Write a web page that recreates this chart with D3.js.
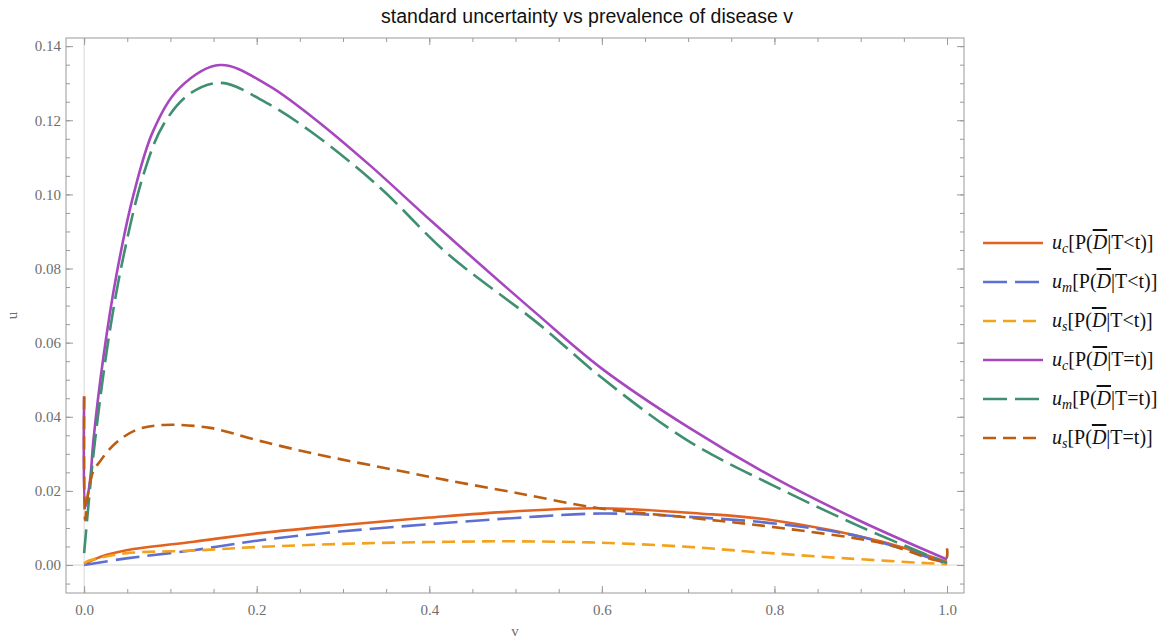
<!DOCTYPE html>
<html>
<head>
<meta charset="utf-8">
<script src="https://cdn.jsdelivr.net/npm/d3@7"></script>
<style>
  body { margin: 0; background: #fff; }
  svg { display: block; }
</style>
</head>
<body>
<div id="chart-area"></div>
<script>
// values
const ucLessV = [0, 0.003, 0.02, 0.049, 0.127, 0.204, 0.3, 0.4, 0.5, 0.597, 0.713, 0.798, 0.925, 1.0];
const ucLessU = [0.0004, 0.0006, 0.0023, 0.004, 0.0063, 0.0086, 0.0108, 0.0128, 0.0145, 0.0153, 0.0139, 0.0121, 0.0063, 0.0008];

const umLessV = [0, 0.049, 0.127, 0.204, 0.3, 0.4, 0.5, 0.6, 0.7, 0.8, 0.9, 1.0];
const umLessU = [0.0, 0.0018, 0.004, 0.0067, 0.0091, 0.011, 0.0127, 0.0139, 0.013, 0.0112, 0.0076, 0.0003];

const usLessV = [0, 0.003, 0.02, 0.049, 0.127, 0.204, 0.3, 0.4, 0.5, 0.6, 0.7, 0.773, 0.883, 1.0];
const usLessU = [0.0003, 0.0009, 0.002, 0.0032, 0.0039, 0.0049, 0.0057, 0.0062, 0.0064, 0.006, 0.0049, 0.0036, 0.0018, 0.0002];

const ucEqV = [0, 0.0012, 0.0069, 0.0108, 0.0224, 0.0378, 0.0571, 0.0802, 0.111, 0.1575, 0.2114, 0.2654, 0.331, 0.4043, 0.524, 0.6, 0.7, 0.8, 0.9, 1.0];
const ucEqU = [0.0455, 0.0155, 0.0229, 0.0337, 0.0562, 0.0787, 0.0998, 0.1172, 0.1288, 0.1349, 0.1297, 0.1207, 0.1079, 0.0924, 0.0679, 0.053, 0.0372, 0.0235, 0.0118, 0.0015];

const umEqV = [0, 0.007, 0.0127, 0.0281, 0.0455, 0.0686, 0.0918, 0.1227, 0.159, 0.2114, 0.2654, 0.3426, 0.4197, 0.526, 0.6, 0.7, 0.8, 0.9, 1.0];
const umEqU = [0.0032, 0.0211, 0.0337, 0.0607, 0.0832, 0.1052, 0.1188, 0.1272, 0.1301, 0.1247, 0.1165, 0.1019, 0.0843, 0.0652, 0.0505, 0.0335, 0.0213, 0.0103, 0.0005];

const usEqV = [0, 0.0012, 0.004, 0.0105, 0.0185, 0.036, 0.061, 0.092, 0.146, 0.2, 0.2654, 0.381, 0.42, 0.5, 0.597, 0.7, 0.797, 0.925, 0.998, 1.0];
const usEqU = [0.0455, 0.0121, 0.0185, 0.0252, 0.028, 0.0328, 0.0365, 0.0378, 0.037, 0.0337, 0.0301, 0.0247, 0.0229, 0.0195, 0.0153, 0.0128, 0.0103, 0.0059, 0.0013, 0.0045];

const xMajor = [0, 0.2, 0.4, 0.6, 0.8, 1.0];
const yMajor = [0, 0.02, 0.04, 0.06, 0.08, 0.10, 0.12, 0.14];

const series = [
    { sub: "c", rel: "<", v: ucLessV, u: ucLessU, color: "#e2621f", dash: null },
    { sub: "m", rel: "<", v: umLessV, u: umLessU, color: "#5d6fd2", dash: "24,8" },
    { sub: "s", rel: "<", v: usLessV, u: usLessU, color: "#f4a21b", dash: "13,7" },
    { sub: "c", rel: "=", v: ucEqV, u: ucEqU, color: "#a747bf", dash: null },
    { sub: "m", rel: "=", v: umEqV, u: umEqU, color: "#3f8f70", dash: "24,8" },
    { sub: "s", rel: "=", v: usEqV, u: usEqU, color: "#bd5d10", dash: "13,7" },
];

const W = 1172, H = 641;
const frame = { left: 66, right: 964, top: 38, bottom: 593 };
const serif = "'Liberation Serif', 'DejaVu Serif', serif";
const tickColor = "#6e6e6e";

const svg = d3.select("#chart-area").append("svg")
    .attr("width", W).attr("height", H);

const x = d3.scaleLinear().domain([-0.021, 1.0197]).range([frame.left, frame.right]);
const y = d3.scaleLinear().domain([-0.00755, 0.1422]).range([frame.bottom, frame.top]);

// title
svg.append("text")
    .attr("x", 587).attr("y", 23)
    .attr("text-anchor", "middle")
    .style("font-family", "'Liberation Sans', Arial, sans-serif")
    .style("font-size", "19.5px")
    .attr("fill", "#111")
    .text("standard uncertainty vs prevalence of disease v");

// zero lines
svg.append("line")
    .attr("x1", x(0)).attr("x2", x(0)).attr("y1", frame.top).attr("y2", frame.bottom)
    .attr("stroke", "#d6d6d6").attr("stroke-width", 1);
svg.append("line")
    .attr("x1", frame.left).attr("x2", frame.right).attr("y1", y(0)).attr("y2", y(0))
    .attr("stroke", "#d6d6d6").attr("stroke-width", 1);

// axes (ticks inward)
const xMinor = d3.range(0, 1.0001, 0.05);
const yMinor = d3.range(-0.005, 0.1421, 0.005);

const addAxis = (axis, tx, ty) => {
    const g = svg.append("g").attr("transform", `translate(${tx},${ty})`).call(axis);
    g.select(".domain").remove();
    g.selectAll("line").attr("stroke", "#9a9a9a");
    g.selectAll("text")
        .style("font-family", serif).style("font-size", "15px").attr("fill", tickColor);
    return g;
};

addAxis(d3.axisBottom(x).tickValues(xMajor).tickSize(-7).tickPadding(11).tickFormat(d3.format(".1f")), 0, frame.bottom);
addAxis(d3.axisBottom(x).tickValues(xMinor).tickSize(-4).tickFormat(""), 0, frame.bottom);
addAxis(d3.axisTop(x).tickValues(xMajor).tickSize(-7).tickFormat(""), 0, frame.top);
addAxis(d3.axisTop(x).tickValues(xMinor).tickSize(-4).tickFormat(""), 0, frame.top);
addAxis(d3.axisLeft(y).tickValues(yMajor).tickSize(-7).tickPadding(5).tickFormat(d3.format(".2f")), frame.left, 0);
addAxis(d3.axisLeft(y).tickValues(yMinor).tickSize(-4).tickFormat(""), frame.left, 0);
addAxis(d3.axisRight(y).tickValues(yMajor).tickSize(-7).tickFormat(""), frame.right, 0);
addAxis(d3.axisRight(y).tickValues(yMinor).tickSize(-4).tickFormat(""), frame.right, 0);

svg.append("rect")
    .attr("x", frame.left).attr("y", frame.top)
    .attr("width", frame.right - frame.left).attr("height", frame.bottom - frame.top)
    .attr("fill", "none").attr("stroke", "#9a9a9a").attr("stroke-width", 1);

// axis labels
svg.append("text")
    .attr("transform", `translate(17,${(frame.top + frame.bottom) / 2}) rotate(-90)`)
    .attr("text-anchor", "middle")
    .style("font-family", serif).style("font-size", "15px").attr("fill", tickColor)
    .text("u");
svg.append("text")
    .attr("x", (frame.left + frame.right) / 2).attr("y", 636)
    .attr("text-anchor", "middle")
    .style("font-family", serif).style("font-size", "15px").attr("fill", tickColor)
    .text("v");

// curves
svg.append("clipPath").attr("id", "plot-clip")
    .append("rect")
    .attr("x", frame.left).attr("y", frame.top)
    .attr("width", frame.right - frame.left).attr("height", frame.bottom - frame.top);

const line = d3.line()
    .x(d => x(d[0]))
    .y(d => y(d[1]))
    .curve(d3.curveCatmullRom.alpha(0.5));

const plot = svg.append("g").attr("clip-path", "url(#plot-clip)");
series.forEach(s => {
    const pts = s.v.map((v, i) => [v, s.u[i]]);
    plot.append("path")
        .attr("d", line(pts))
        .attr("fill", "none")
        .attr("stroke", s.color)
        .attr("stroke-width", 2.6)
        .attr("stroke-dasharray", s.dash);
});

// legend
const legendTop = 243, legendStep = 39;
const legend = svg.append("g");
series.forEach((s, i) => {
    const ly = legendTop + i * legendStep;
    legend.append("line")
        .attr("x1", 983).attr("x2", 1043).attr("y1", ly).attr("y2", ly)
        .attr("stroke", s.color).attr("stroke-width", 2.6)
        .attr("stroke-dasharray", s.dash);
    const t = legend.append("text")
        .attr("x", 1052).attr("y", ly + 6)
        .style("font-family", serif).style("font-size", "20px").attr("fill", "#111");
    t.append("tspan").style("font-style", "italic").text("u");
    t.append("tspan").style("font-style", "italic").style("font-size", "14px").attr("dy", 4).text(s.sub);
    t.append("tspan").attr("dy", -4).text("[P(");
    t.append("tspan").style("font-style", "italic").style("text-decoration", "overline").text("D");
    t.append("tspan").text(`|T${s.rel}t)]`);
});
</script>
</body>
</html>
